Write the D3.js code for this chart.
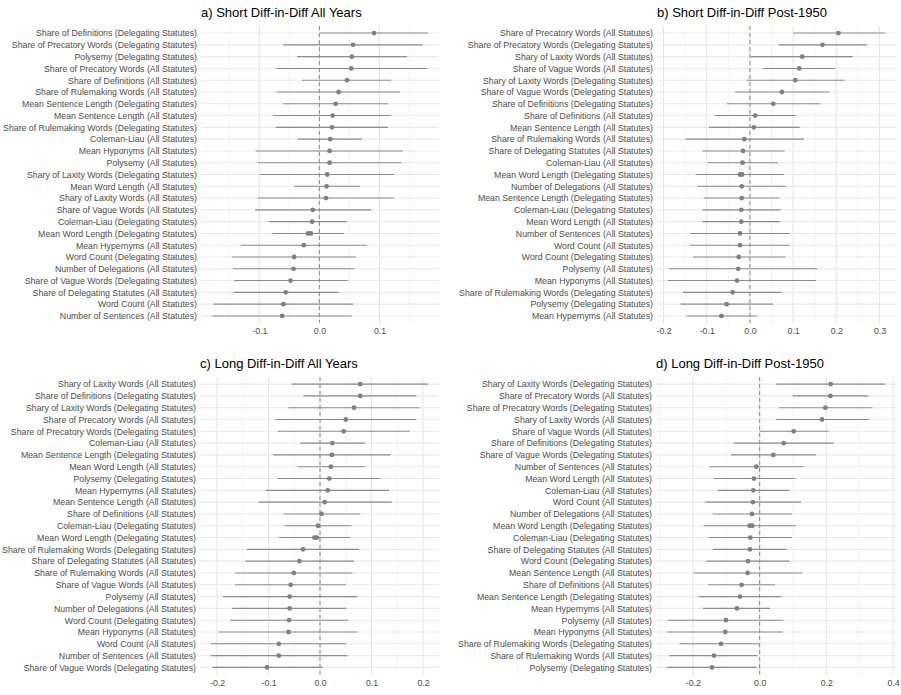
<!DOCTYPE html>
<html>
<head>
<meta charset="utf-8">
<script src="https://cdn.jsdelivr.net/npm/d3@7"></script>
<style>
body{margin:0;background:#fff;}
text{font-family:"Liberation Sans",Arial,Helvetica,sans-serif;}
</style>
</head>
<body>
<div id="chart"></div>
<script>
// panel a) Short Diff-in-Diff All Years
var aLabels=["Share of Definitions (Delegating Statutes)","Share of Precatory Words (Delegating Statutes)","Polysemy (Delegating Statutes)","Share of Precatory Words (All Statutes)","Share of Definitions (All Statutes)","Share of Rulemaking Words (All Statutes)","Mean Sentence Length (Delegating Statutes)","Mean Sentence Length (All Statutes)","Share of Rulemaking Words (Delegating Statutes)","Coleman-Liau (All Statutes)","Mean Hyponyms (All Statutes)","Polysemy (All Statutes)","Shary of Laxity Words (Delegating Statutes)","Mean Word Length (All Statutes)","Shary of Laxity Words (All Statutes)","Share of Vague Words (All Statutes)","Coleman-Liau (Delegating Statutes)","Mean Word Length (Delegating Statutes)","Mean Hypernyms (All Statutes)","Word Count (Delegating Statutes)","Number of Delegations (All Statutes)","Share of Vague Words (Delegating Statutes)","Share of Delegating Statutes (All Statutes)","Word Count (All Statutes)","Number of Sentences (All Statutes)"];
var aEst=[0.091,0.056,0.054,0.053,0.046,0.032,0.027,0.022,0.021,0.018,0.017,0.017,0.013,0.012,0.011,-0.011,-0.012,-0.019,-0.026,-0.042,-0.043,-0.048,-0.056,-0.060,-0.062];
var aLow=[0.001,-0.060,-0.037,-0.072,-0.029,-0.071,-0.060,-0.077,-0.073,-0.036,-0.106,-0.103,-0.099,-0.042,-0.103,-0.107,-0.084,-0.078,-0.131,-0.145,-0.144,-0.142,-0.143,-0.176,-0.179];
var aHigh=[0.181,0.172,0.146,0.179,0.119,0.134,0.114,0.119,0.114,0.071,0.139,0.136,0.124,0.067,0.124,0.086,0.046,0.041,0.079,0.061,0.058,0.047,0.032,0.056,0.054];

// panel b) Short Diff-in-Diff Post-1950
var bLabels=["Share of Precatory Words (All Statutes)","Share of Precatory Words (Delegating Statutes)","Shary of Laxity Words (All Statutes)","Share of Vague Words (All Statutes)","Shary of Laxity Words (Delegating Statutes)","Share of Vague Words (Delegating Statutes)","Share of Definitions (Delegating Statutes)","Share of Definitions (All Statutes)","Mean Sentence Length (All Statutes)","Share of Rulemaking Words (All Statutes)","Share of Delegating Statutes (All Statutes)","Coleman-Liau (All Statutes)","Mean Word Length (Delegating Statutes)","Number of Delegations (All Statutes)","Mean Sentence Length (Delegating Statutes)","Coleman-Liau (Delegating Statutes)","Mean Word Length (All Statutes)","Number of Sentences (All Statutes)","Word Count (All Statutes)","Word Count (Delegating Statutes)","Polysemy (All Statutes)","Mean Hyponyms (All Statutes)","Share of Rulemaking Words (Delegating Statutes)","Polysemy (Delegating Statutes)","Mean Hypernyms (All Statutes)"];
var bEst=[0.205,0.168,0.121,0.114,0.105,0.074,0.054,0.012,0.009,-0.013,-0.016,-0.017,-0.023,-0.019,-0.019,-0.020,-0.020,-0.023,-0.023,-0.026,-0.027,-0.030,-0.040,-0.054,-0.066];
var bLow=[0.100,0.067,0.002,0.030,-0.008,-0.034,-0.054,-0.082,-0.095,-0.149,-0.110,-0.098,-0.126,-0.122,-0.107,-0.110,-0.110,-0.139,-0.139,-0.132,-0.188,-0.190,-0.155,-0.160,-0.146];
var bHigh=[0.313,0.271,0.238,0.197,0.219,0.183,0.163,0.107,0.115,0.125,0.080,0.065,0.079,0.084,0.068,0.071,0.070,0.093,0.092,0.082,0.156,0.153,0.073,0.053,0.016];

// panel c) Long Diff-in-Diff All Years
var cLabels=["Shary of Laxity Words (All Statutes)","Share of Definitions (Delegating Statutes)","Shary of Laxity Words (Delegating Statutes)","Share of Precatory Words (All Statutes)","Share of Precatory Words (Delegating Statutes)","Coleman-Liau (All Statutes)","Mean Sentence Length (Delegating Statutes)","Mean Word Length (All Statutes)","Polysemy (Delegating Statutes)","Mean Hypernyms (All Statutes)","Mean Sentence Length (All Statutes)","Share of Definitions (All Statutes)","Coleman-Liau (Delegating Statutes)","Mean Word Length (Delegating Statutes)","Share of Rulemaking Words (Delegating Statutes)","Share of Delegating Statutes (All Statutes)","Share of Rulemaking Words (All Statutes)","Share of Vague Words (All Statutes)","Polysemy (All Statutes)","Number of Delegations (All Statutes)","Word Count (Delegating Statutes)","Mean Hyponyms (All Statutes)","Word Count (All Statutes)","Number of Sentences (All Statutes)","Share of Vague Words (Delegating Statutes)"];
var cEst=[0.078,0.078,0.066,0.050,0.046,0.024,0.023,0.021,0.018,0.015,0.009,0.003,-0.004,-0.011,-0.033,-0.040,-0.051,-0.057,-0.059,-0.059,-0.060,-0.061,-0.080,-0.080,-0.103];
var cLow=[-0.055,-0.032,-0.061,-0.087,-0.082,-0.038,-0.091,-0.043,-0.082,-0.105,-0.119,-0.071,-0.069,-0.080,-0.142,-0.145,-0.165,-0.165,-0.188,-0.171,-0.175,-0.196,-0.212,-0.212,-0.209];
var cHigh=[0.210,0.187,0.193,0.187,0.174,0.087,0.137,0.087,0.117,0.134,0.139,0.078,0.061,0.059,0.076,0.066,0.063,0.050,0.072,0.051,0.055,0.073,0.051,0.053,0.005];

// panel d) Long Diff-in-Diff Post-1950
var dLabels=["Shary of Laxity Words (Delegating Statutes)","Share of Precatory Words (All Statutes)","Share of Precatory Words (Delegating Statutes)","Shary of Laxity Words (All Statutes)","Share of Vague Words (All Statutes)","Share of Definitions (Delegating Statutes)","Share of Vague Words (Delegating Statutes)","Number of Sentences (All Statutes)","Mean Word Length (All Statutes)","Coleman-Liau (All Statutes)","Word Count (All Statutes)","Number of Delegations (All Statutes)","Mean Word Length (Delegating Statutes)","Coleman-Liau (Delegating Statutes)","Share of Delegating Statutes (All Statutes)","Word Count (Delegating Statutes)","Mean Sentence Length (All Statutes)","Share of Definitions (All Statutes)","Mean Sentence Length (Delegating Statutes)","Mean Hypernyms (All Statutes)","Polysemy (All Statutes)","Mean Hyponyms (All Statutes)","Share of Rulemaking Words (Delegating Statutes)","Share of Rulemaking Words (All Statutes)","Polysemy (Delegating Statutes)"];
var dEst=[0.213,0.212,0.197,0.187,0.102,0.072,0.041,-0.010,-0.017,-0.019,-0.020,-0.023,-0.030,-0.028,-0.029,-0.035,-0.036,-0.054,-0.059,-0.068,-0.101,-0.103,-0.116,-0.137,-0.143];
var dLow=[0.050,0.099,0.058,0.050,0.000,-0.078,-0.086,-0.150,-0.137,-0.126,-0.163,-0.141,-0.168,-0.153,-0.140,-0.160,-0.198,-0.155,-0.183,-0.170,-0.275,-0.278,-0.240,-0.270,-0.277];
var dHigh=[0.376,0.326,0.338,0.328,0.207,0.222,0.169,0.132,0.106,0.089,0.124,0.097,0.109,0.096,0.081,0.089,0.127,0.046,0.065,0.031,0.071,0.069,0.001,-0.007,-0.010];

// second (overlapping) estimate drawn for Mean Word Length (Delegating Statutes), panels a-d
var twinLabel="Mean Word Length (Delegating Statutes)";
var twinEst=[-0.014,-0.018,-0.006,-0.022];

var titles=["a) Short Diff-in-Diff All Years","b) Short Diff-in-Diff Post-1950","c) Long Diff-in-Diff All Years","d) Long Diff-in-Diff Post-1950"];

var width=901, height=695;
var svg=d3.select("#chart").append("svg")
	.attr("width",width)
	.attr("height",height)
	.style("background","#fff");

var panels=[
	{labels:aLabels,est:aEst,low:aLow,high:aHigh,left:201,right:439,top:26,bottom:323},
	{labels:bLabels,est:bEst,low:bLow,high:bHigh,left:657,right:896,top:26,bottom:323},
	{labels:cLabels,est:cEst,low:cLow,high:cHigh,left:200,right:439,top:377,bottom:674.5},
	{labels:dLabels,est:dEst,low:dLow,high:dHigh,left:656,right:896,top:377,bottom:674.5}
];

panels.forEach(function(p,i){
	drawPanel(p,titles[i],twinEst[i]);
});

function drawPanel(p,title,twin){
	var data=p.labels.map(function(l,k){return {label:l,est:p.est[k],low:p.low[k],high:p.high[k]};});

	// ggplot style 5% expansion of the data range
	var mn=d3.min(data,function(d){return d.low;});
	var mx=d3.max(data,function(d){return d.high;});
	var pad=(mx-mn)*0.05;
	var x=d3.scaleLinear().domain([mn-pad,mx+pad]).range([p.left,p.right]);
	var y=d3.scalePoint().domain(p.labels).range([p.top,p.bottom]).padding(0.6);

	var majors=x.ticks(5);
	var step=majors[1]-majors[0];
	var minors=[];
	for(var v=majors[0]-step/2;v<=x.domain()[1];v+=step){
		if(v>=x.domain()[0]) minors.push(v);
	}

	var g=svg.append("g").attr("class","panel");

	g.selectAll(".minor")
		.data(minors)
		.enter().append("line")
		.attr("class","minor")
		.attr("x1",function(d){return x(d);})
		.attr("x2",function(d){return x(d);})
		.attr("y1",p.top)
		.attr("y2",p.bottom)
		.style("stroke","#efefef")
		.style("stroke-width","0.7px");

	g.selectAll(".major")
		.data(majors)
		.enter().append("line")
		.attr("class","major")
		.attr("x1",function(d){return x(d);})
		.attr("x2",function(d){return x(d);})
		.attr("y1",p.top)
		.attr("y2",p.bottom)
		.style("stroke","#e6e6e6")
		.style("stroke-width","1.1px");

	g.selectAll(".rowline")
		.data(p.labels)
		.enter().append("line")
		.attr("class","rowline")
		.attr("x1",p.left)
		.attr("x2",p.right)
		.attr("y1",function(d){return y(d);})
		.attr("y2",function(d){return y(d);})
		.style("stroke","#eaeaea")
		.style("stroke-width","1.1px");

	// zero reference
	g.append("line")
		.attr("x1",x(0))
		.attr("x2",x(0))
		.attr("y1",p.top)
		.attr("y2",p.bottom)
		.style("stroke","#8a8a8a")
		.style("stroke-width","1px")
		.style("stroke-dasharray","4,3");

	g.selectAll(".ci")
		.data(data)
		.enter().append("line")
		.attr("class","ci")
		.attr("x1",function(d){return x(d.low);})
		.attr("x2",function(d){return x(d.high);})
		.attr("y1",function(d){return y(d.label);})
		.attr("y2",function(d){return y(d.label);})
		.style("stroke","#8c8c8c")
		.style("stroke-width","1.1px");

	g.selectAll(".pt")
		.data(data)
		.enter().append("circle")
		.attr("class","pt")
		.attr("cx",function(d){return x(d.est);})
		.attr("cy",function(d){return y(d.label);})
		.attr("r",2.4)
		.style("fill","#808080");

	g.append("circle")
		.attr("cx",x(twin))
		.attr("cy",y(twinLabel))
		.attr("r",2.4)
		.style("fill","#808080");

	// axes
	var xAxis=g.append("g")
		.attr("transform","translate(0,"+p.bottom+")")
		.call(d3.axisBottom(x).tickValues(majors).tickSize(0).tickPadding(5).tickFormat(function(d){return d.toFixed(1);}));
	xAxis.select(".domain").remove();
	xAxis.selectAll("text").style("font-size","8.8px").style("fill","#4d4d4d");

	var yAxis=g.append("g")
		.attr("transform","translate("+(p.left-4)+",0)")
		.call(d3.axisLeft(y).tickSize(0).tickPadding(0));
	yAxis.select(".domain").remove();
	yAxis.selectAll("text").style("font-size","8.75px").style("fill","#4d4d4d");

	g.append("text")
		.attr("x",p.left)
		.attr("y",p.top-9.5)
		.style("font-size","13px")
		.style("fill","#000")
		.text(title);
}
</script>
</body>
</html>
